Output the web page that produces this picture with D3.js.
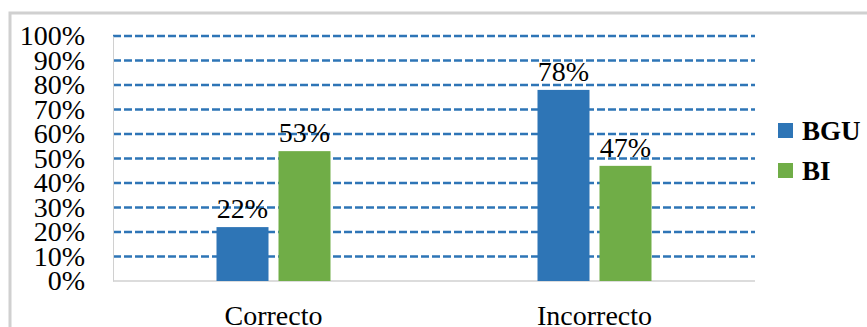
<!DOCTYPE html>
<html>
<head>
<meta charset="utf-8">
<script src="https://cdn.jsdelivr.net/npm/d3@7"></script>
<style>
  html, body { margin: 0; padding: 0; background: #fff; }
  svg { display: block; }
  text { font-family: "Liberation Serif", "Times New Roman", serif; fill: #000; }
</style>
</head>
<body>
<svg id="chart" width="867" height="327"></svg>
<script>
// Answer categories and the two groups compared
const categories = ["Correcto", "Incorrecto"];
const seriesNames = ["BGU", "BI"];
const bguValues = [0.22, 0.78];
const biValues = [0.53, 0.47];
const yTicks = [0, 0.1, 0.2, 0.3, 0.4, 0.5, 0.6, 0.7, 0.8, 0.9, 1.0];
const colors = { BGU: "#2e75b6", BI: "#70ad47" };

const svg = d3.select("#chart");
const W = 867, H = 327;
const plot = { left: 113, right: 755, top: 36, bottom: 281 };
const serif = '"Liberation Serif", "Times New Roman", serif';

// outer chart frame
svg.append("rect").attr("x", 10).attr("y", 13)
  .attr("width", W + 10).attr("height", H + 10)
  .attr("fill", "#fff").attr("stroke", "#d0d0d0").attr("stroke-width", 3);

const x = d3.scaleBand().domain(categories).range([plot.left, plot.right]);
const y = d3.scaleLinear().domain([0, 1]).range([plot.bottom, plot.top]);

// dashed gridlines
svg.append("g").selectAll("line").data(yTicks.filter(d => d > 0)).join("line")
  .attr("x1", plot.left).attr("x2", plot.right)
  .attr("y1", d => y(d)).attr("y2", d => y(d))
  .attr("stroke", "#2e75b6").attr("stroke-width", 2.5)
  .attr("stroke-dasharray", "8,3");

// y axis labels
const yAxis = d3.axisLeft(y).tickValues(yTicks).tickFormat(d3.format(".0%")).tickSize(0).tickPadding(28);
const gy = svg.append("g").attr("transform", `translate(${plot.left},0)`).call(yAxis);
gy.attr("font-family", null);
gy.select(".domain").attr("stroke", "#d0d0d0").attr("stroke-width", 1);
gy.selectAll("text").style("font-family", serif).style("font-size", "28px").attr("fill", "#000");

// baseline
svg.append("line").attr("x1", plot.left).attr("x2", plot.right)
  .attr("y1", plot.bottom).attr("y2", plot.bottom)
  .attr("stroke", "#d0d0d0").attr("stroke-width", 1.5);

// bars with value labels
const rows = categories.map((c, i) => ({ cat: c, BGU: bguValues[i], BI: biValues[i] }));
const barW = 52;
const offsets = { BGU: -57, BI: 5 };
const groups = svg.append("g").selectAll("g").data(rows).join("g")
  .attr("transform", d => `translate(${x(d.cat) + x.bandwidth() / 2},0)`);

seriesNames.forEach(s => {
  groups.append("rect")
    .attr("x", offsets[s]).attr("width", barW)
    .attr("y", d => y(d[s])).attr("height", d => plot.bottom - y(d[s]))
    .attr("fill", colors[s]);
  groups.append("text")
    .attr("x", offsets[s] + barW / 2).attr("y", d => y(d[s]) - 9)
    .attr("text-anchor", "middle")
    .style("font-family", serif).style("font-size", "28px")
    .text(d => d3.format(".0%")(d[s]));
});

// category labels
const xAxis = d3.axisBottom(x).tickSize(0).tickPadding(24);
const gx = svg.append("g").attr("transform", `translate(0,${plot.bottom})`).call(xAxis);
gx.attr("font-family", null);
gx.select(".domain").remove();
gx.selectAll("text").style("font-family", serif).style("font-size", "28px").attr("fill", "#000");

// legend
const legend = svg.append("g").attr("transform", "translate(778,123)");
seriesNames.forEach((s, i) => {
  legend.append("rect").attr("x", 0).attr("y", i * 40).attr("width", 15).attr("height", 15).attr("fill", colors[s]);
  legend.append("text").attr("x", 24).attr("y", i * 40 + 17)
    .style("font-family", serif).style("font-size", "27px").style("font-weight", "bold").text(s);
});
</script>
</body>
</html>
